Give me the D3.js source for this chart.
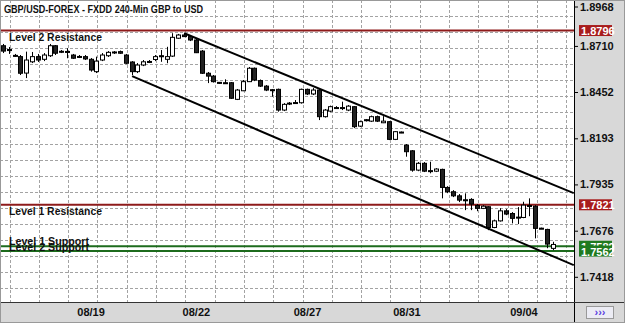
<!DOCTYPE html>
<html>
<head>
<meta charset="utf-8">
<script src="https://cdn.jsdelivr.net/npm/d3@7/dist/d3.min.js"></script>
<style>
    body { margin: 0; background: #fff; }
    svg { display: block; font-family: "Liberation Sans", Arial, sans-serif; }
</style>
</head>
<body>
<div id="chart"></div>
<script>
/* Candle values, 240-min bars, oldest first. */
const opens = [1.8711, 1.8690, 1.8657, 1.8650, 1.8558, 1.8621, 1.8650, 1.8635, 1.8655, 1.8711,
    1.8680, 1.8679, 1.8659, 1.8651, 1.8650, 1.8635, 1.8566, 1.8631, 1.8655, 1.8676,
    1.8678, 1.8659, 1.8620, 1.8566, 1.8603, 1.8623, 1.8634, 1.8655, 1.8635, 1.8653,
    1.8753, 1.8771, 1.8762, 1.8743, 1.8681, 1.8557, 1.8541, 1.8506, 1.8504, 1.8504,
    1.8411, 1.8459, 1.8510, 1.8585, 1.8516, 1.8485, 1.8465, 1.8467, 1.8351, 1.8390,
    1.8393, 1.8392, 1.8467, 1.8441, 1.8463, 1.8314, 1.8345, 1.8365, 1.8365, 1.8351,
    1.8370, 1.8261, 1.8297, 1.8289, 1.8314, 1.8280, 1.8286, 1.8187, 1.8228, 1.8155,
    1.8123, 1.8015, 1.8053, 1.8012, 1.8009, 1.8019, 1.7918, 1.7894, 1.7871, 1.7849,
    1.7851, 1.7817, 1.7801, 1.7810, 1.7694, 1.7731, 1.7787, 1.7772, 1.7752, 1.7750,
    1.7813, 1.7813, 1.7690, 1.7683, 1.7577];
const highs = [1.8721, 1.8704, 1.8665, 1.8659, 1.8678, 1.8676, 1.8665, 1.8670, 1.8721, 1.8715,
    1.8687, 1.8697, 1.8665, 1.8659, 1.8659, 1.8642, 1.8650, 1.8670, 1.8681, 1.8681,
    1.8684, 1.8665, 1.8625, 1.8614, 1.8631, 1.8631, 1.8659, 1.8687, 1.8705, 1.8781,
    1.8777, 1.8781, 1.8765, 1.8749, 1.8687, 1.8564, 1.8547, 1.8508, 1.8523, 1.8508,
    1.8469, 1.8519, 1.8592, 1.8589, 1.8522, 1.8491, 1.8469, 1.8471, 1.8390, 1.8396,
    1.8407, 1.8471, 1.8471, 1.8474, 1.8469, 1.8357, 1.8376, 1.8373, 1.8398, 1.8379,
    1.8373, 1.8292, 1.8301, 1.8320, 1.8320, 1.8317, 1.8289, 1.8233, 1.8231, 1.8161,
    1.8127, 1.8060, 1.8060, 1.8062, 1.8026, 1.8023, 1.7925, 1.7903, 1.7881, 1.7885,
    1.7858, 1.7825, 1.7819, 1.7813, 1.7738, 1.7802, 1.7797, 1.7780, 1.7808, 1.7838,
    1.7857, 1.7819, 1.7693, 1.7687, 1.7614];
const lows = [1.8670, 1.8665, 1.8648, 1.8547, 1.8530, 1.8614, 1.8620, 1.8625, 1.8648, 1.8659,
    1.8670, 1.8641, 1.8637, 1.8642, 1.8631, 1.8566, 1.8558, 1.8625, 1.8648, 1.8665,
    1.8665, 1.8609, 1.8547, 1.8558, 1.8597, 1.8614, 1.8625, 1.8621, 1.8613, 1.8648,
    1.8749, 1.8760, 1.8737, 1.8670, 1.8553, 1.8502, 1.8505, 1.8497, 1.8497, 1.8413,
    1.8407, 1.8457, 1.8508, 1.8513, 1.8480, 1.8457, 1.8426, 1.8342, 1.8345, 1.8379,
    1.8385, 1.8387, 1.8435, 1.8435, 1.8295, 1.8309, 1.8340, 1.8357, 1.8351, 1.8345,
    1.8250, 1.8256, 1.8287, 1.8284, 1.8284, 1.8278, 1.8183, 1.8183, 1.8222, 1.8090,
    1.8006, 1.8009, 1.8004, 1.7997, 1.8004, 1.7857, 1.7886, 1.7864, 1.7836, 1.7791,
    1.7791, 1.7785, 1.7797, 1.7679, 1.7690, 1.7727, 1.7763, 1.7717, 1.7713, 1.7746,
    1.7757, 1.7633, 1.7685, 1.7578, 1.7567];
const closes = [1.8681, 1.8684, 1.8653, 1.8557, 1.8631, 1.8650, 1.8631, 1.8659, 1.8711, 1.8669,
    1.8676, 1.8676, 1.8641, 1.8648, 1.8637, 1.8575, 1.8625, 1.8659, 1.8674, 1.8673,
    1.8669, 1.8613, 1.8566, 1.8603, 1.8621, 1.8620, 1.8650, 1.8652, 1.8650, 1.8758,
    1.8771, 1.8762, 1.8743, 1.8672, 1.8557, 1.8541, 1.8510, 1.8502, 1.8502, 1.8417,
    1.8463, 1.8510, 1.8585, 1.8519, 1.8485, 1.8463, 1.8461, 1.8351, 1.8383, 1.8387,
    1.8390, 1.8467, 1.8441, 1.8463, 1.8314, 1.8351, 1.8370, 1.8362, 1.8362, 1.8373,
    1.8258, 1.8286, 1.8293, 1.8314, 1.8289, 1.8289, 1.8187, 1.8230, 1.8224, 1.8118,
    1.8015, 1.8053, 1.8009, 1.8009, 1.8021, 1.7918, 1.7894, 1.7871, 1.7847, 1.7845,
    1.7825, 1.7801, 1.7813, 1.7694, 1.7731, 1.7787, 1.7769, 1.7745, 1.7748, 1.7819,
    1.7817, 1.7689, 1.7687, 1.7601, 1.7599];

/* Axis labels. */
const dateLabels = ['08/19', '08/22', '08/27', '08/31', '09/04'];
const dateBars = [15, 33, 52, 69, 89];
const priceTicks = [1.8968, 1.8710, 1.8452, 1.8193, 1.7935, 1.7676, 1.7418];

/* Drawn levels and channel. */
const levelNames = ['Level 2 Resistance', 'Level 1 Resistance', 'Level 1 Support', 'Level 2 Support'];
const levelValues = [1.8796, 1.7821, 1.7589, 1.7562];
const levelKinds = ['res', 'res', 'sup', 'sup'];
const channelUpper = [[31, 1.8781], [97.6, 1.7886]];
const channelLower = [[22.1, 1.8541], [97.6, 1.7483]];

const title = 'GBP/USD-FOREX - FXDD 240-Min GBP to USD';

/* Chart layout. */
const W = 625, H = 325;
const plot = {left: 0, top: 0, right: 574, bottom: 302};
const colors = {res: '#8e1b1b', resBox: '#a81c1c', sup: '#1d6b1d', supBox: '#1f7a1f', panel: '#d8d8d8', grid: '#a3a3a3'};

const svg = d3.select('#chart').append('svg')
    .attr('width', W)
    .attr('height', H);

// Scales.
const x = d3.scaleLinear().domain([0, opens.length - 1]).range([2.8, 552.7]);
const y = d3.scaleLinear().domain([1.7418, 1.8968]).range([276.8, -0.2]);

// Panels behind the axes.
svg.append('rect').attr('x', 0).attr('y', 0).attr('width', W).attr('height', H).attr('fill', '#fff');
svg.append('rect').attr('x', plot.right + 1).attr('y', 0).attr('width', W - plot.right - 1).attr('height', plot.bottom)
    .attr('fill', colors.panel);
svg.append('rect').attr('x', 0).attr('y', plot.bottom).attr('width', W).attr('height', 21)
    .attr('fill', colors.panel);

// Dashed grid.
const grid = svg.append('g').attr('stroke', colors.grid).attr('stroke-dasharray', '3,2').attr('stroke-width', 1);
grid.selectAll('.gx')
    .data(d3.range(9.5, plot.right, 29.3))
    .enter()
    .append('line')
    .attr('x1', d => Math.round(d) + 0.5).attr('x2', d => Math.round(d) + 0.5)
    .attr('y1', plot.top).attr('y2', plot.bottom);
grid.selectAll('.gy')
    .data(d3.range(15.7, plot.bottom, 16))
    .enter()
    .append('line')
    .attr('y1', d => Math.round(d) + 0.5).attr('y2', d => Math.round(d) + 0.5)
    .attr('x1', plot.left).attr('x2', plot.right);

// Clip marks to the plot area.
svg.append('clipPath').attr('id', 'plotClip')
    .append('rect').attr('x', plot.left).attr('y', plot.top)
    .attr('width', plot.right - plot.left).attr('height', plot.bottom - plot.top);
const body = svg.append('g').attr('clip-path', 'url(#plotClip)');

// Level lines.
body.selectAll('.level')
    .data(levelValues)
    .enter()
    .append('line')
    .attr('x1', plot.left).attr('x2', plot.right)
    .attr('y1', d => y(d)).attr('y2', d => y(d))
    .attr('stroke', (d, i) => levelKinds[i] === 'res' ? colors.res : colors.sup)
    .attr('stroke-width', 2);

// Channel lines.
const line = d3.line().x(d => x(d[0])).y(d => y(d[1]));
body.selectAll('.channel')
    .data([channelUpper, channelLower])
    .enter()
    .append('path')
    .attr('d', line)
    .attr('fill', 'none')
    .attr('stroke', '#000')
    .attr('stroke-width', 2);

// Candles.
const bars = d3.range(opens.length);
const candle = body.selectAll('.candle')
    .data(bars)
    .enter()
    .append('g');
candle.append('line')
    .attr('x1', i => Math.round(x(i)) + 0.5).attr('x2', i => Math.round(x(i)) + 0.5)
    .attr('y1', i => y(highs[i])).attr('y2', i => y(lows[i]))
    .attr('stroke', '#000');
candle.append('rect')
    .attr('x', i => Math.round(x(i)) - 1.5)
    .attr('y', i => y(Math.max(opens[i], closes[i])))
    .attr('width', 4)
    .attr('height', i => Math.max(1, Math.abs(y(opens[i]) - y(closes[i]))))
    .attr('fill', i => closes[i] < opens[i] ? '#222' : '#fff')
    .attr('stroke', '#000')
    .attr('stroke-width', 1);

// Level names.
svg.selectAll('.levelName')
    .data(levelNames)
    .enter()
    .append('text')
    .attr('x', 9)
    .attr('y', (d, i) => levelKinds[i] === 'res' ? y(levelValues[i]) + 10 : y(levelValues[i]) - 1 + i - 2)
    .attr('font-size', '11px')
    .attr('font-weight', 'bold')
    .attr('fill', '#111')
    .attr('textLength', (d, i) => levelKinds[i] === 'res' ? 93 : 80)
    .attr('lengthAdjust', 'spacingAndGlyphs')
    .text(d => d);

// Title.
svg.append('text')
    .attr('x', 4).attr('y', 13)
    .attr('font-size', '11px')
    .attr('font-weight', 'bold')
    .attr('fill', '#111')
    .attr('textLength', 199)
    .attr('lengthAdjust', 'spacingAndGlyphs')
    .text(title);

// Right price axis.
const yAxis = svg.append('g')
    .attr('transform', 'translate(' + plot.right + ',0)')
    .call(d3.axisRight(y).tickValues(priceTicks).tickFormat(d3.format('.4f')).tickSize(4).tickPadding(2));
yAxis.select('.domain').remove();
yAxis.selectAll('.tick')
    .filter(d => y(d) < 7)
    .attr('transform', 'translate(0,7)');
yAxis.selectAll('text')
    .attr('font-size', '11px')
    .attr('font-weight', 'bold')
    .attr('font-family', '"Liberation Sans", Arial, sans-serif')
    .attr('fill', '#111');

// Level price boxes.
const boxes = svg.selectAll('.levelBox')
    .data(levelValues)
    .enter()
    .append('g')
    .attr('transform', d => 'translate(579,' + y(d) + ')');
boxes.append('rect')
    .attr('x', 0).attr('y', -5.5)
    .attr('width', 33).attr('height', 11)
    .attr('fill', (d, i) => levelKinds[i] === 'res' ? colors.resBox : colors.supBox);
boxes.append('text')
    .attr('x', 2).attr('y', 4.5)
    .attr('font-size', '11px')
    .attr('font-weight', 'bold')
    .attr('fill', '#fff')
    .text(d => d.toFixed(4));

// Bottom date axis.
const xAxis = svg.append('g')
    .attr('transform', 'translate(0,' + (plot.bottom + 4) + ')')
    .call(d3.axisBottom(x).tickValues(dateBars).tickFormat((d, i) => dateLabels[i]).tickSize(0).tickPadding(2));
xAxis.select('.domain').remove();
xAxis.selectAll('text')
    .attr('font-size', '11px')
    .attr('font-weight', 'bold')
    .attr('font-family', '"Liberation Sans", Arial, sans-serif')
    .attr('fill', '#111');

// Frame lines.
svg.append('line').attr('x1', plot.right + 0.5).attr('x2', plot.right + 0.5).attr('y1', 0).attr('y2', 323)
    .attr('stroke', '#000');
svg.append('line').attr('x1', 0).attr('x2', W).attr('y1', plot.bottom + 0.5).attr('y2', plot.bottom + 0.5)
    .attr('stroke', '#333');
svg.append('line').attr('x1', 0).attr('x2', W).attr('y1', 322.5).attr('y2', 322.5)
    .attr('stroke', '#999');
svg.append('rect').attr('x', 0.5).attr('y', 0.5).attr('width', W - 1).attr('height', 322)
    .attr('fill', 'none').attr('stroke', '#999');

// Scroll button.
svg.append('rect').attr('x', 586.5).attr('y', 306.5).attr('width', 27).attr('height', 12)
    .attr('fill', '#ececf4').attr('stroke', '#999');
svg.append('text').attr('x', 600).attr('y', 316).attr('text-anchor', 'middle')
    .attr('font-size', '11px').attr('font-weight', 'bold').attr('fill', '#5a3ee0')
    .text('\u203A\u203A\u203A');
</script>
</body>
</html>
